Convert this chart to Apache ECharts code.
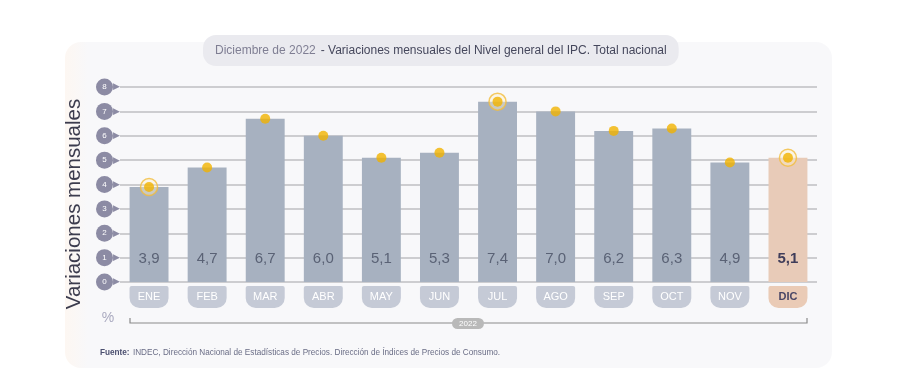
<!DOCTYPE html>
<html>
<head>
<meta charset="utf-8">
<script src="https://cdn.jsdelivr.net/npm/echarts@6/dist/echarts.min.js"></script>
<style>
html, body { margin: 0; padding: 0; background: #fff; }
#chart { width: 921px; height: 375px; }
</style>
</head>
<body>
<div id="chart"></div>
<script>
// datos
const months = ['ENE', 'FEB', 'MAR', 'ABR', 'MAY', 'JUN', 'JUL', 'AGO', 'SEP', 'OCT', 'NOV', 'DIC'];
const values = [3.9, 4.7, 6.7, 6.0, 5.1, 5.3, 7.4, 7.0, 6.2, 6.3, 4.9, 5.1];
const ringMonths = ['ENE', 'JUL', 'DIC'];
const lastMonth = 'DIC';
const yearLabel = '2022';

const fmt = v => v.toFixed(1).replace('.', ',');

const chart = echarts.init(document.getElementById('chart'));

const barData = months.map((m, i) => {
    if (m === lastMonth) {
        return {
            value: values[i],
            itemStyle: { color: '#e8cbb8' },
            label: { color: '#3f3d5a', fontWeight: 'bold' }
        };
    }
    return values[i];
});
const ringData = months.map((m, i) => ringMonths.indexOf(m) >= 0 ? values[i] : null);

const option = {
    animation: false,
    title: {
        text: '{a|Diciembre de 2022} {b|- Variaciones mensuales del Nivel general del IPC. Total nacional}',
        left: 203,
        top: 35,
        backgroundColor: '#eaeaef',
        borderRadius: 13,
        padding: [7, 12, 6, 12],
        textStyle: {
            fontWeight: 'normal',
            rich: {
                a: { fontFamily: 'Liberation Sans', fontSize: 12, fontWeight: 'normal', color: '#7f7e93' },
                b: { fontFamily: 'Liberation Sans', fontSize: 12, fontWeight: 'normal', color: '#45475c' }
            }
        }
    },
    grid: { left: 120, right: 104, top: 87, bottom: 93 },
    xAxis: {
        type: 'category',
        data: months,
        axisLine: { show: false },
        axisTick: { show: false },
        axisLabel: {
            margin: 4,
            formatter: v => v === lastMonth ? '{h|' + v + '}' : '{n|' + v + '}',
            rich: {
                n: {
                    width: 39, height: 22, lineHeight: 22, align: 'center',
                    backgroundColor: '#c5cad6', borderRadius: [2, 2, 10, 10],
                    color: '#fff', fontSize: 11, fontFamily: 'Liberation Sans'
                },
                h: {
                    width: 39, height: 22, lineHeight: 22, align: 'center',
                    backgroundColor: '#eacbb6', borderRadius: [2, 2, 10, 10],
                    color: '#4a4766', fontSize: 11, fontWeight: 'bold', fontFamily: 'Liberation Sans'
                }
            }
        }
    },
    yAxis: {
        type: 'value',
        min: 0,
        max: 8,
        interval: 1,
        axisLine: { show: false },
        axisTick: { show: false },
        splitLine: { lineStyle: { color: '#cdcdd0', width: 2 } },
        axisLabel: {
            margin: 0,
            formatter: v => '{c|' + v + '}{t|▶}',
            rich: {
                c: {
                    width: 17, height: 17, lineHeight: 17, align: 'center',
                    backgroundColor: '#8c8ba4', borderRadius: 9,
                    color: '#fff', fontSize: 8, fontFamily: 'Liberation Sans'
                },
                t: { color: '#8c8ba4', fontSize: 9 }
            }
        }
    },
    series: [
        {
            type: 'bar',
            data: barData,
            barWidth: '67%',
            itemStyle: { color: '#a7b1c0' },
            label: {
                show: true,
                position: 'insideBottom',
                distance: 16,
                formatter: p => fmt(p.value),
                color: '#5a6275',
                fontSize: 15,
                fontFamily: 'Liberation Sans'
            },
            z: 2
        },
        {
            type: 'scatter',
            data: ringData,
            symbol: 'circle',
            symbolSize: 17,
            itemStyle: { color: 'rgba(255,240,200,0.5)', borderColor: '#f2bd3c', borderWidth: 1.5 },
            z: 4
        },
        {
            type: 'scatter',
            data: values,
            symbol: 'circle',
            symbolSize: 10,
            itemStyle: { color: '#f1b300' },
            z: 5
        }
    ],
    graphic: [
        {
            type: 'rect',
            z: -10,
            shape: { x: 65, y: 42, width: 767, height: 326, r: 16 },
            style: {
                fill: new echarts.graphic.LinearGradient(0, 0, 1, 0, [
                    { offset: 0, color: '#fdf7f2' },
                    { offset: 0.03, color: '#f8f8fa' },
                    { offset: 1, color: '#f8f8fa' }
                ])
            }
        },
        {
            type: 'text',
            x: 74,
            y: 204,
            rotation: Math.PI / 2,
            style: {
                text: 'Variaciones mensuales',
                fill: '#3c3c4e',
                fontSize: 20.5,
                fontFamily: 'Liberation Sans',
                align: 'center',
                verticalAlign: 'middle'
            }
        },
        {
            type: 'text',
            x: 108,
            y: 318,
            style: {
                text: '%', fill: '#a9a9bf', fontSize: 14, fontFamily: 'Liberation Sans',
                align: 'center', verticalAlign: 'middle'
            }
        },
        {
            type: 'polyline',
            shape: { points: [[130, 318], [130, 323], [807, 323], [807, 318]] },
            style: { stroke: '#8a8a8a', lineWidth: 1.2, fill: null }
        },
        {
            type: 'rect',
            shape: { x: 452, y: 318, width: 32, height: 11, r: 6 },
            style: { fill: '#b9b9b9' }
        },
        {
            type: 'text',
            x: 468,
            y: 323.5,
            style: {
                text: yearLabel, fill: '#fff', fontSize: 8, fontFamily: 'Liberation Sans',
                align: 'center', verticalAlign: 'middle'
            }
        },
        {
            type: 'text',
            x: 100,
            y: 353,
            style: {
                text: '{b|Fuente:} {n|INDEC, Dirección Nacional de Estadísticas de Precios. Dirección de Índices de Precios de Consumo.}',
                verticalAlign: 'middle',
                rich: {
                    b: { fontSize: 8.2, fontWeight: 'bold', fill: '#4c5070', fontFamily: 'Liberation Sans' },
                    n: { fontSize: 8.2, fill: '#6a6d86', fontFamily: 'Liberation Sans' }
                }
            }
        }
    ]
};

chart.setOption(option);
</script>
</body>
</html>
